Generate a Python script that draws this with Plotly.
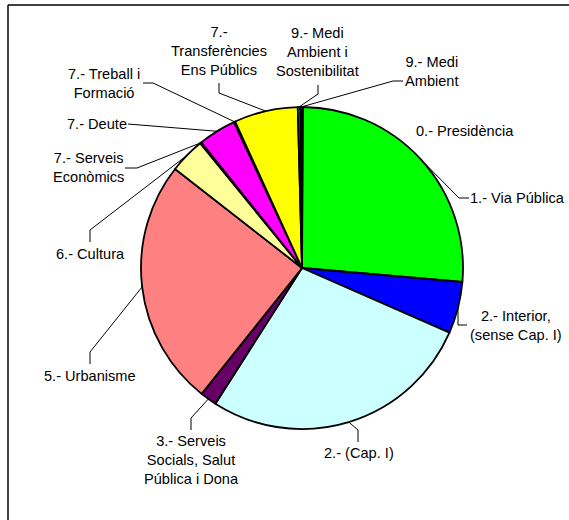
import math
import plotly.graph_objects as go

# ---- data ----
labels = [
    "0.- Presidència",
    "1.- Via Pública",
    "2.- Interior,<br>(sense Cap. I)",
    "2.- (Cap. I)",
    "3.- Serveis<br>Socials, Salut<br>Pública i Dona",
    "5.- Urbanisme",
    "6.- Cultura",
    "7.- Serveis<br>Econòmics",
    "7.- Deute",
    "7.- Treball i<br>Formació",
    "7.-<br>Transferències<br>Ens Públics",
    "9.- Medi<br>Ambient i<br>Sostenibilitat",
    "9.- Medi<br>Ambient",
]
values = [0.11, 26.28, 5.19, 27.47, 1.67, 24.83, 3.56, 0.14, 3.81, 0.14, 6.39, 0.25, 0.17]
colors = ["#000080", "#00FF00", "#0000FF", "#CCFFFF", "#660066", "#FF8080", "#FFFF99",
          "#000080", "#FF00FF", "#800000", "#FFFF00", "#00FFFF", "#800080"]

# ---- layout geometry (pixels) ----
W, H = 569, 520
CX, CY, R = 302, 268, 161

def px(x):
    return x / W

def py(y):
    return 1 - y / H

# label centre positions (pixels)
label_pos = [
    (465, 131), (517, 198), (516, 325), (359, 453), (191, 460), (90, 376), (90, 254),
    (88, 168), (97, 124), (104, 83), (219, 51), (317, 52), (432, 72),
]
# leader-line points on the label side (pixels); the arc end is computed from the data
leader_pts = [
    None,
    [(469, 198), (459, 198)],
    [(467, 325), (458, 325)],
    [(358, 442), (358, 430)],
    [(191, 430), (191, 418)],
    [(90, 364), (90, 352)],
    [(90, 242), (90, 230)],
    [(125, 168), (137, 168)],
    [(128, 124)],
    [(143, 83), (153, 83)],
    [(219, 83), (219, 93)],
    [(318, 85), (318, 94)],
    [(403, 81), (393, 81)],
]

fig = go.Figure()
fig.add_trace(go.Pie(
    labels=labels,
    values=values,
    sort=False,
    direction="clockwise",
    rotation=0,
    textinfo="none",
    hoverinfo="label+percent",
    marker=dict(colors=colors, line=dict(color="black", width=1.8)),
    domain=dict(x=[px(CX - R), px(CX + R)], y=[py(CY + R), py(CY - R)]),
    showlegend=False,
))

total = sum(values)
cum = 0.0
shapes = []
annotations = []
for i, v in enumerate(values):
    a0 = cum / total * 360
    cum += v
    a1 = cum / total * 360
    mid = math.radians((a0 + a1) / 2)
    ex = CX + R * math.sin(mid)
    ey = CY - R * math.cos(mid)
    lx, ly = label_pos[i]
    annotations.append(dict(
        x=px(lx), y=py(ly), xref="paper", yref="paper", text=labels[i],
        showarrow=False, xanchor="center", yanchor="middle", align="center",
        font=dict(family="Liberation Sans, Arial, sans-serif", size=14.6, color="black"),
    ))
    pts = leader_pts[i]
    if pts:
        path = "M " + " L ".join(f"{px(x)},{py(y)}" for x, y in pts + [(ex, ey)])
        shapes.append(dict(type="path", xref="paper", yref="paper", path=path,
                           line=dict(color="black", width=1)))

# chart-area frame (left and top edges visible)
shapes.append(dict(type="line", xref="paper", yref="paper", x0=px(8), y0=py(5), x1=1.05, y1=py(5),
                   line=dict(color="black", width=1.5)))
shapes.append(dict(type="line", xref="paper", yref="paper", x0=px(8), y0=py(5), x1=px(8), y1=-0.05,
                   line=dict(color="black", width=1.5)))

fig.update_layout(
    width=W, height=H,
    margin=dict(l=0, r=0, t=0, b=0),
    paper_bgcolor="white", plot_bgcolor="white",
    shapes=shapes, annotations=annotations,
)

fig.write_html(
    "out.html",
    config={"displayModeBar": False},
    post_script="document.body.style.margin='0';document.body.style.overflow='hidden';",
)
